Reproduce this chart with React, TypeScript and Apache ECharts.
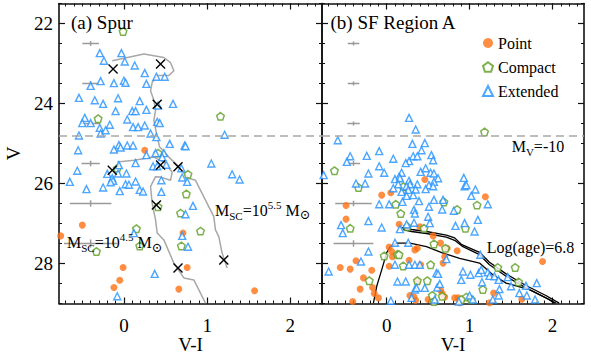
import React, { useEffect, useRef } from "react";
import * as echarts from "echarts";

// ---------- axes ----------
const X_RANGE = [-0.78, 2.38];
const V_RANGE = [21.5, 29];
const xMajorTicks = [0, 1, 2];
const vMajorTicks = [22, 24, 26, 28];
const xMinorTicks = Array.from({ length: 31 }, (_, i) => Math.round((-0.7 + i * 0.1) * 10) / 10);
const vMinorTicks = Array.from({ length: 16 }, (_, i) => 21.5 + i * 0.5);
const mvLimit = 24.8;

// ---------- (a) Spur ----------
const spurExtended: number[][] = [
  [-0.29, 22.74], [-0.03, 22.74], [-0.24, 22.93], [0.01, 22.95], [0.13, 23.05], [0.25, 23.24], [0.39, 23.33],
  [0.49, 23.33], [-0.28, 23.44], [-0.4, 23.56], [-0.12, 23.49], [0.0, 23.43], [0.02, 23.48], [0.27, 23.51],
  [-0.54, 23.86], [-0.35, 23.92], [-0.25, 24.01], [-0.07, 23.87], [0.19, 23.94], [0.41, 24.05], [0.59, 24.01],
  [-0.1, 24.19], [0.1, 24.19], [0.14, 24.19], [0.27, 24.16], [-0.47, 24.36], [-0.5, 24.49], [-0.4, 24.49],
  [0.04, 24.4], [-0.17, 24.53], [-0.29, 24.61], [-0.28, 24.75], [-0.22, 24.67], [0.11, 24.59], [0.17, 24.59],
  [0.25, 24.55], [0.4, 24.46], [0.43, 24.49], [-0.54, 24.8], [0.32, 24.75], [0.39, 24.84], [0.55, 25.01],
  [0.73, 25.05], [-0.55, 25.17], [-0.12, 25.15], [-0.06, 25.04], [-0.04, 25.1], [0.04, 25.05], [0.11, 25.05],
  [0.27, 25.29], [0.38, 25.24], [0.48, 25.24], [0.46, 25.34], [0.14, 25.49], [0.35, 25.57], [0.4, 25.57],
  [-0.06, 25.54], [0.51, 25.53], [0.69, 25.62], [-0.56, 25.68], [-0.2, 25.76], [-0.07, 25.75], [0.03, 25.75],
  [-0.14, 25.87], [-0.13, 25.93], [-0.16, 25.97], [0.14, 25.95], [0.45, 25.92], [0.7, 25.85], [0.76, 25.96],
  [-0.65, 25.96], [0.02, 26.02], [0.06, 26.03], [-0.45, 26.14], [-0.25, 26.1], [-0.05, 26.19], [0.19, 26.16],
  [0.23, 26.2], [0.45, 26.21], [0.83, 26.56], [0.74, 26.77], [1.21, 24.78], [0.74, 25.07], [1.05, 25.5],
  [1.3, 25.77], [1.39, 25.9], [0.12, 27.24], [0.7, 27.31], [0.77, 27.58], [0.37, 28.26], [-0.08, 28.82],
];
const spurCompact: number[][] = [
  [-0.01, 22.2], [-0.31, 24.38], [0.41, 25.24], [-0.08, 25.62], [0.77, 25.77], [0.75, 26.26], [0.68, 26.74],
  [0.41, 26.58], [0.15, 27.13], [1.16, 24.32], [0.19, 27.56], [-0.33, 27.7], [0.69, 27.56], [0.92, 27.19],
];
const spurPoint: number[][] = [
  [0.25, 25.17], [-0.5, 27.04], [-0.76, 27.31], [0.71, 27.24], [-0.01, 28.1], [-0.05, 28.42], [-0.12, 28.6],
  [0.66, 28.64], [0.76, 28.1], [1.57, 28.68],
];
const spurClusters: number[][] = [
  [-0.13, 23.14], [0.44, 23.01], [0.4, 24.02], [-0.14, 25.67], [0.44, 25.54], [0.65, 25.58], [0.39, 26.54],
  [0.65, 28.11], [1.2, 27.91],
];
const trackHighMass: number[][] = [
  [-0.14, 22.93], [0.24, 22.76], [0.48, 22.85], [0.56, 22.98], [0.6, 23.18], [0.54, 23.3], [0.4, 23.3],
  [0.34, 23.47], [0.32, 23.68], [0.36, 23.92], [0.38, 24.17], [0.36, 24.42], [0.4, 24.84], [0.43, 25.09],
  [0.54, 25.34], [0.64, 25.54], [0.78, 25.87], [0.86, 25.92], [1.08, 26.83], [1.1, 27.16], [1.14, 27.33],
  [1.18, 27.74], [1.24, 28.11],
];
const trackLowMass: number[][] = [
  [-0.08, 25.46], [0.12, 25.42], [0.36, 25.34], [0.5, 25.49], [0.58, 25.72], [0.56, 25.92], [0.44, 25.84],
  [0.38, 25.83], [0.32, 26.08], [0.34, 26.5], [0.38, 26.91], [0.4, 27.24], [0.48, 27.41], [0.6, 27.99],
  [0.72, 28.36], [0.84, 28.41], [0.98, 28.99],
];
// [V-I, V, err(V-I), err(V)]
const spurErrors: number[][] = [
  [-0.4, 22.5, 0.1, 0.06], [-0.4, 23.5, 0.1, 0.06], [-0.4, 24.5, 0.11, 0.06], [-0.4, 25.5, 0.11, 0.07],
  [-0.4, 26.5, 0.25, 0.08], [-0.4, 27.5, 0.32, 0.1],
];

// ---------- (b) SF Region A ----------
const sfExtended: number[][] = [
  [0.27, 24.36], [0.35, 24.65], [-0.59, 24.92], [0.31, 25.01], [0.46, 24.99], [0.42, 25.17], [-0.44, 25.32],
  [-0.48, 25.46], [-0.24, 25.31], [-0.09, 25.19], [0.08, 25.38], [0.32, 25.32], [0.37, 25.32], [0.27, 25.44],
  [0.23, 25.49], [0.54, 25.29], [0.56, 25.42], [-0.09, 25.57], [-0.22, 25.75], [-0.03, 25.73], [0.18, 25.73],
  [0.15, 25.83], [0.1, 25.89], [0.41, 25.71], [0.47, 25.62], [0.53, 25.73], [0.57, 25.75], [0.62, 25.87],
  [0.57, 25.96], [0.51, 26.04], [0.56, 26.07], [0.27, 25.93], [0.28, 26.02], [0.24, 26.07], [0.26, 26.16],
  [0.37, 26.02], [0.35, 26.15], [0.16, 25.87], [0.14, 26.02], [0.08, 26.12], [-0.37, 26.0], [-0.26, 26.0],
  [0.47, 26.14], [0.18, 26.21], [0.24, 26.31], [0.32, 26.29], [0.39, 26.44], [0.57, 26.41], [0.51, 26.58],
  [0.67, 26.65], [0.81, 26.68], [-0.09, 26.52], [0.03, 26.52], [0.19, 26.46], [0.33, 26.66], [0.34, 26.75],
  [0.5, 26.83], [0.52, 26.99], [-0.22, 26.94], [-0.55, 27.04], [-0.06, 27.1], [0.24, 27.02], [0.83, 27.06],
  [-0.76, 25.79], [0.93, 25.86], [0.94, 26.07], [0.96, 26.04], [1.07, 26.15], [1.02, 26.31], [1.22, 26.52],
  [0.68, 26.41], [1.1, 26.91], [0.94, 26.99], [-0.53, 27.24], [0.16, 27.14], [0.33, 26.98], [-0.22, 27.7],
  [0.1, 27.48], [0.26, 27.48], [-0.31, 27.95], [-0.7, 28.2], [0.1, 28.03], [0.27, 28.03], [0.34, 28.03],
  [0.4, 28.03], [0.6, 28.24], [0.62, 28.26], [0.13, 28.45], [0.23, 28.45], [0.34, 28.65], [0.36, 28.61],
  [0.46, 28.61], [0.61, 28.6], [0.64, 28.51], [0.58, 28.9], [0.05, 28.93], [0.3, 28.86], [0.87, 28.95],
  [1.06, 27.2], [0.72, 27.89], [0.92, 28.2], [0.9, 28.41], [1.01, 28.28], [1.11, 28.24], [1.14, 28.16],
  [1.22, 28.22], [1.24, 28.31], [1.3, 28.32], [1.35, 28.41], [1.15, 28.47], [1.13, 27.78], [1.46, 28.34],
  [1.5, 28.57], [1.68, 28.56], [1.81, 28.49], [1.79, 28.9], [1.6, 28.74], [1.69, 28.8], [1.36, 28.64],
  [1.35, 28.8], [1.28, 28.9], [1.0, 28.8], [1.04, 28.9],
];
const sfCompact: number[][] = [
  [1.18, 24.71], [-0.63, 25.68], [-0.34, 26.1], [0.2, 26.08], [0.11, 26.52], [0.17, 26.75], [0.69, 26.46],
  [0.85, 26.65], [-0.44, 27.12], [0.25, 27.08], [0.45, 27.12], [1.09, 26.54], [0.95, 27.12], [0.57, 27.51],
  [0.71, 27.62], [-0.03, 27.81], [0.13, 27.77], [0.15, 27.78], [0.2, 28.06], [0.53, 28.03], [-0.21, 28.43],
  [0.37, 28.43], [0.49, 28.43], [0.55, 28.8], [0.57, 28.95], [0.67, 28.82], [1.34, 28.1], [1.55, 28.1],
  [1.59, 28.46], [1.16, 28.65], [0.96, 28.84], [1.02, 28.9], [0.9, 28.9],
];
const sfPoint: number[][] = [
  [0.46, 25.9], [-0.06, 26.29], [0.05, 26.23], [-0.49, 26.55], [-0.49, 26.89], [0.15, 27.02], [1.19, 26.33],
  [0.4, 27.08], [0.56, 27.31], [0.65, 27.49], [0.73, 27.62], [0.03, 27.59], [0.06, 27.7], [0.07, 27.83],
  [0.37, 27.62], [0.34, 27.66], [-0.37, 27.93], [-0.56, 28.1], [-0.44, 28.14], [0.03, 28.07], [0.27, 27.92],
  [0.41, 28.03], [-0.18, 28.17], [0.7, 27.83], [0.68, 27.99], [-0.28, 28.36], [0.37, 28.45], [-0.32, 28.64],
  [-0.17, 28.6], [-0.15, 28.75], [-0.1, 28.86], [0.28, 28.8], [0.33, 28.84], [0.35, 28.92], [0.65, 28.67],
  [0.67, 28.75], [0.7, 28.84], [-0.41, 28.95], [0.5, 28.9], [0.82, 28.86], [0.86, 28.86], [0.85, 27.68],
  [1.88, 27.95], [1.29, 28.74], [1.63, 28.89], [1.24, 28.98], [0.88, 28.98],
];
const isoUpperA: number[][] = [
  [0.18, 27.1], [0.3, 27.15], [0.48, 27.2], [0.72, 27.29], [0.82, 27.36], [0.9, 27.52], [1.12, 27.72],
  [1.24, 27.97], [1.44, 28.26], [1.68, 28.55], [1.92, 28.8], [2.08, 28.99],
];
const isoUpperB: number[][] = [
  [0.2, 27.15], [0.3, 27.2], [0.48, 27.25], [0.72, 27.34], [0.82, 27.42], [0.92, 27.58], [1.12, 27.78],
  [1.24, 28.03], [1.44, 28.32], [1.68, 28.61], [1.92, 28.86], [2.04, 28.99],
];
const isoLower: number[][] = [
  [-0.16, 28.99], [-0.12, 28.57], [-0.06, 28.16], [0.0, 27.73], [0.04, 27.58], [0.12, 27.49], [0.28, 27.49],
  [0.48, 27.58], [0.68, 27.74], [0.88, 27.87], [1.12, 27.99], [1.28, 28.28], [1.44, 28.49], [1.72, 28.65],
  [1.96, 28.9], [2.02, 28.99],
];
const sfErrors: number[][] = [
  [-0.4, 22.5, 0.07, 0.05], [-0.4, 23.5, 0.07, 0.05], [-0.4, 24.5, 0.075, 0.05], [-0.4, 25.5, 0.08, 0.06],
  [-0.4, 26.5, 0.22, 0.07], [-0.4, 27.5, 0.24, 0.08],
];

// ---------- styling ----------
const SERIF = "Liberation Serif";
const ORANGE = "#ff7214";
const GREEN = "#5c9e22";
const BLUE = "#2090ff";
const PENTAGON = "path://M0,-10L9.51,-3.09L5.88,8.09L-5.88,8.09L-9.51,-3.09Z";
const AXIS_COLOR = "#111";

function makeXAxes(grid: number) {
  const base: any = {
    type: "value",
    gridIndex: grid,
    min: X_RANGE[0],
    max: X_RANGE[1],
    splitLine: { show: false },
    axisLabel: { show: false },
    axisLine: { show: false, onZero: false },
  };
  const line = { show: true, onZero: false, lineStyle: { color: AXIS_COLOR, width: 1.6 } };
  const major = { show: true, inside: true, length: 6, customValues: xMajorTicks, lineStyle: { color: AXIS_COLOR, width: 1.2 } };
  const minor = { show: true, inside: true, length: 3, customValues: xMinorTicks, lineStyle: { color: AXIS_COLOR, width: 1 } };
  return [
    {
      ...base,
      position: "bottom",
      axisLine: line,
      axisTick: major,
      axisLabel: { show: true, customValues: xMajorTicks, margin: 12, fontSize: 19, fontFamily: SERIF, color: "#000" },
      name: "V-I",
      nameLocation: "middle",
      nameGap: 31,
      nameMoveOverlap: false,
      nameTextStyle: { fontSize: 19, fontFamily: SERIF, color: "#000" },
    },
    { ...base, position: "bottom", axisTick: minor },
    { ...base, position: "top", axisLine: line, axisTick: major },
    { ...base, position: "top", axisTick: minor },
  ];
}

function makeYAxes(grid: number) {
  const base: any = {
    type: "value",
    gridIndex: grid,
    min: V_RANGE[0],
    max: V_RANGE[1],
    inverse: true,
    splitLine: { show: false },
    axisLabel: { show: false },
    axisLine: { show: false, onZero: false },
  };
  const line = { show: true, onZero: false, lineStyle: { color: AXIS_COLOR, width: 1.6 } };
  const major = { show: true, inside: true, length: 6, customValues: vMajorTicks, lineStyle: { color: AXIS_COLOR, width: 1.2 } };
  const minor = { show: true, inside: true, length: 3, customValues: vMinorTicks, lineStyle: { color: AXIS_COLOR, width: 1 } };
  const first: any = { ...base, position: "left", axisLine: line, axisTick: major };
  if (grid === 0) {
    first.axisLabel = { show: true, customValues: vMajorTicks, margin: 6, fontSize: 19, fontFamily: SERIF, color: "#000" };
    first.name = "V";
    first.nameLocation = "middle";
    first.nameGap = 36;
    first.nameMoveOverlap = false;
    first.nameTextStyle = { fontSize: 19, fontFamily: SERIF, color: "#000" };
  }
  return [
    first,
    { ...base, position: "left", axisTick: minor },
    { ...base, position: "right", axisLine: line, axisTick: major },
    { ...base, position: "right", axisTick: minor },
  ];
}

function errorSeries(grid: number, data: number[][]) {
  return {
    type: "custom",
    name: "err" + grid,
    xAxisIndex: grid * 4,
    yAxisIndex: grid * 4,
    data,
    encode: { x: 0, y: 1 },
    z: 1,
    renderItem: (_p: any, api: any) => {
      const x = api.value(0), v = api.value(1), dx = api.value(2), dv = api.value(3);
      const l = api.coord([x - dx, v]);
      const r = api.coord([x + dx, v]);
      const t = api.coord([x, v - dv]);
      const b = api.coord([x, v + dv]);
      const style = { stroke: "#9a9a9a", lineWidth: 1.5 };
      return {
        type: "group",
        children: [
          { type: "line", shape: { x1: l[0], y1: l[1], x2: r[0], y2: r[1] }, style },
          { type: "line", shape: { x1: t[0], y1: t[1], x2: b[0], y2: b[1] }, style },
        ],
      };
    },
  };
}

function lineSeries(grid: number, name: string, data: number[][], color: string, width: number, withLimit: boolean) {
  const s: any = {
    type: "line",
    name,
    xAxisIndex: grid * 4,
    yAxisIndex: grid * 4,
    data,
    showSymbol: false,
    symbol: "none",
    silent: true,
    z: 2,
    lineStyle: { color, width },
  };
  if (withLimit) {
    s.markLine = {
      silent: true,
      symbol: ["none", "none"],
      label: { show: false },
      lineStyle: { type: [8, 5], color: "#a8a8a8", width: 1.5 },
      data: [{ yAxis: mvLimit }],
    };
  }
  return s;
}

function scatterSet(grid: number, point: number[][], compact: number[][], extended: number[][]) {
  const common = { type: "scatter", xAxisIndex: grid * 4, yAxisIndex: grid * 4, silent: true, z: 3 };
  return [
    { ...common, name: "Point", data: point, symbol: "circle", symbolSize: 7, itemStyle: { color: ORANGE } },
    {
      ...common,
      name: "Compact",
      data: compact,
      symbol: PENTAGON,
      symbolSize: 7.5,
      itemStyle: { color: "#fff", borderColor: GREEN, borderWidth: 1.5 },
    },
    {
      ...common,
      name: "Extended",
      data: extended,
      symbol: "triangle",
      symbolSize: 7,
      itemStyle: { color: "#fff", borderColor: BLUE, borderWidth: 1.4 },
    },
  ];
}

const RICH = {
  m: { fontSize: 16, fontFamily: SERIF, lineHeight: 22, fill: "#000", color: "#000" },
  t: { fontSize: 19, fontFamily: SERIF, lineHeight: 22, fill: "#000", color: "#000" },
  sub: { fontSize: 11, fontFamily: SERIF, lineHeight: 12, verticalAlign: "bottom", fill: "#000", color: "#000" },
  sup: { fontSize: 11, fontFamily: SERIF, lineHeight: 12, verticalAlign: "top", fill: "#000", color: "#000" },
  sun: { fontSize: 13, fontFamily: "DejaVu Serif", lineHeight: 16, verticalAlign: "bottom", fill: "#000", color: "#000" },
};

function richLabel(text: string, x: number, y: number) {
  return {
    type: "text",
    x,
    y,
    z: 100,
    style: {
      text,
      fill: "#000",
      fontSize: 16,
      fontFamily: SERIF,
      textAlign: "left",
      textVerticalAlign: "middle",
      align: "left",
      verticalAlign: "middle",
      rich: RICH,
    },
  };
}

export default function App() {
  const ref = useRef<HTMLDivElement>(null);
  useEffect(() => {
    if (!ref.current) return;
    const chart = echarts.init(ref.current, null, { renderer: "svg" });
    const option: any = {
      animation: false,
      backgroundColor: "#fff",
      textStyle: { fontFamily: SERIF },
      grid: [
        { left: 59, top: 3.5, width: 263, height: 300, outerBoundsMode: "none", containLabel: false },
        { left: 322, top: 3.5, width: 262, height: 300, outerBoundsMode: "none", containLabel: false },
      ],
      xAxis: [...makeXAxes(0), ...makeXAxes(1)],
      yAxis: [...makeYAxes(0), ...makeYAxes(1)],
      legend: {
        data: ["Point", "Compact", "Extended"],
        orient: "vertical",
        left: 477,
        top: 30,
        itemWidth: 10,
        itemHeight: 10,
        itemGap: 8,
        selectedMode: false,
        formatter: (name: string) => `{lg|${name}}`,
        textStyle: {
          fontSize: 16,
          fontFamily: SERIF,
          color: "#000",
          lineHeight: 16,
          rich: { lg: { fontSize: 16, fontFamily: SERIF, color: "#000", lineHeight: 16 } },
        },
      },
      series: [
        errorSeries(0, spurErrors),
        lineSeries(0, "track55", trackHighMass, "#a8a8a8", 1.5, true),
        lineSeries(0, "track45", trackLowMass, "#a8a8a8", 1.5, false),
        ...scatterSet(0, spurPoint, spurCompact, spurExtended),
        {
          type: "custom",
          name: "clusters",
          xAxisIndex: 0,
          yAxisIndex: 0,
          data: spurClusters,
          encode: { x: 0, y: 1 },
          z: 5,
          renderItem: (_p: any, api: any) => {
            const c = api.coord([api.value(0), api.value(1)]);
            const h = 4.5;
            const style = { stroke: "#000", lineWidth: 1.4 };
            return {
              type: "group",
              children: [
                { type: "line", shape: { x1: c[0] - h, y1: c[1] - h, x2: c[0] + h, y2: c[1] + h }, style },
                { type: "line", shape: { x1: c[0] - h, y1: c[1] + h, x2: c[0] + h, y2: c[1] - h }, style },
              ],
            };
          },
        },
        errorSeries(1, sfErrors),
        lineSeries(1, "isoLower", isoLower, "#000", 1.3, true),
        lineSeries(1, "isoUpperA", isoUpperA, "#000", 1.3, false),
        lineSeries(1, "isoUpperB", isoUpperB, "#000", 1.3, false),
        ...scatterSet(1, sfPoint, sfCompact, sfExtended),
      ],
      graphic: [
        richLabel("{t|(a) Spur}", 71, 22.7),
        richLabel("{t|(b) SF Region A}", 330.5, 22),
        richLabel("{m|M}{sub|SC}{m|=10}{sup|5.5}{m| M}{sun|⊙}", 215, 210),
        richLabel("{m|M}{sub|SC}{m|=10}{sup|4.5}{m| M}{sun|⊙}", 67, 242.5),
        richLabel("{m|M}{sub|V}{m|=-10}", 511.7, 146.7),
        richLabel("{m|Log(age)=6.8}", 486.7, 247),
      ],
    };
    chart.setOption(option);
    return () => chart.dispose();
  }, []);
  return (
    <div
      ref={ref}
      style={{ position: "fixed", left: 0, top: 0, width: 591, height: 354, background: "#fff" }}
    />
  );
}
